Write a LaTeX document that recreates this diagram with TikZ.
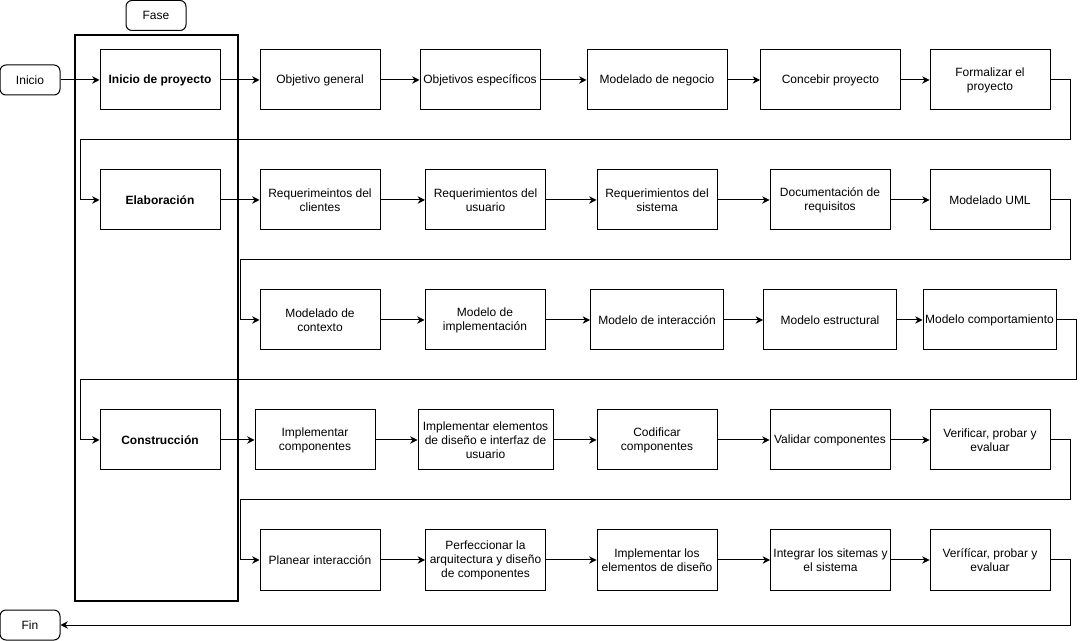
\documentclass[tikz,border=0pt]{standalone}
\usepackage{fontspec}
\setmainfont{Liberation Sans}
\usetikzlibrary{arrows.meta}
\begin{document}
\begin{tikzpicture}[x=0.75pt,y=-0.75pt,
  txt/.style={font=\fontsize{9pt}{10.5pt}\selectfont, align=center, inner sep=0pt},
  box/.style={txt, draw, line width=0.75pt, minimum width=#1, minimum height=45pt},
  box/.default=90pt,
  phase/.style={box, font=\fontsize{9pt}{10.5pt}\selectfont\bfseries},
  term/.style={txt, draw, line width=0.75pt, rounded corners=4.5pt, minimum width=45pt, minimum height=22.5pt},
  arr/.style={line width=0.75pt, -{Stealth[length=5.5pt,width=5.5pt,inset=1.8pt]}},
  frame/.style={draw, line width=1.5pt}
]
\useasboundingbox (0,0) rectangle (1086,641);

% phase column
\draw[frame] (75,35) rectangle (238,601);
\node[term] (fase) at (156,15.5) {Fase};

% start / end
\node[term] (inicio) at (30,80) {Inicio};
\node[term] (fin) at (30,625) {Fin};

% phases
\node[phase] (p1) at (160,80) {Inicio de proyecto};
\node[phase] (p2) at (160,200) {Elaboración};
\node[phase] (p3) at (160,440) {Construcción};

% row 1
\node[box] (a1) at (320,80) {Objetivo general};
\node[box] (a2) at (480,80) {Objetivos específicos};
\node[box=105pt] (a3) at (657,80) {Modelado de negocio};
\node[box=105pt] (a4) at (830.5,80) {Concebir proyecto};
\node[box] (a5) at (990,80) {Formalizar el\\proyecto};

% row 2
\node[box] (b1) at (320,200) {Requerimeintos del\\clientes};
\node[box] (b2) at (485.5,200) {Requerimientos del\\usuario};
\node[box] (b3) at (657,200) {Requerimientos del\\sistema};
\node[box] (b4) at (830,200) {Documentación de\\requisitos};
\node[box] (b5) at (990,200) {Modelado UML};

% row 3
\node[box] (c1) at (320,320) {Modelado de\\contexto};
\node[box] (c2) at (485,320) {Modelo de\\implementación};
\node[box=99.75pt] (c3) at (657,320) {Modelo de interacción};
\node[box=99.75pt] (c4) at (830,320) {Modelo estructural};
\node[box=99.75pt] (c5) at (989.5,320) {Modelo comportamiento};

% row 4
\node[box] (d1) at (315,440) {Implementar\\componentes};
\node[box=101.25pt] (d2) at (485.5,440) {Implementar elementos\\de diseño e interfaz de\\usuario};
\node[box] (d3) at (657,440) {Codificar\\componentes};
\node[box] (d4) at (830,440) {Validar componentes};
\node[box] (d5) at (990,440) {Verificar, probar y\\evaluar};

% row 5
\node[box] (e1) at (320,560) {Planear interacción};
\node[box] (e2) at (485.5,560) {Perfeccionar la\\arquitectura y diseño\\de componentes};
\node[box] (e3) at (657,560) {Implementar los\\elementos de diseño};
\node[box] (e4) at (830.5,560) {Integrar los sitemas y\\el sistema};
\node[box] (e5) at (990,560) {Verífícar, probar y\\evaluar};

% straight connectors
\draw[arr] (inicio) -- (p1);
\draw[arr] (p1) -- (a1);
\draw[arr] (a1) -- (a2);
\draw[arr] (a2) -- (a3);
\draw[arr] (a3) -- (a4);
\draw[arr] (a4) -- (a5);

\draw[arr] (p2) -- (b1);
\draw[arr] (b1) -- (b2);
\draw[arr] (b2) -- (b3);
\draw[arr] (b3) -- (b4);
\draw[arr] (b4) -- (b5);

\draw[arr] (c1) -- (c2);
\draw[arr] (c2) -- (c3);
\draw[arr] (c3) -- (c4);
\draw[arr] (c4) -- (c5);

\draw[arr] (p3) -- (d1);
\draw[arr] (d1) -- (d2);
\draw[arr] (d2) -- (d3);
\draw[arr] (d3) -- (d4);
\draw[arr] (d4) -- (d5);

\draw[arr] (e1) -- (e2);
\draw[arr] (e2) -- (e3);
\draw[arr] (e3) -- (e4);
\draw[arr] (e4) -- (e5);

% row-to-row return connectors
\draw[arr] (a5.east) -- (1070,80) -- (1070,140) -- (80,140) -- (80,200) -- (p2.west);
\draw[arr] (b5.east) -- (1070,200) -- (1070,260) -- (240,260) -- (240,320) -- (c1.west);
\draw[arr] (c5.east) -- (1076,320) -- (1076,380) -- (80,380) -- (80,440) -- (p3.west);
\draw[arr] (d5.east) -- (1070,440) -- (1070,500) -- (240,500) -- (240,560) -- (e1.west);
\draw[arr] (e5.east) -- (1070,560) -- (1070,625) -- (fin.east);
\end{tikzpicture}
\end{document}
